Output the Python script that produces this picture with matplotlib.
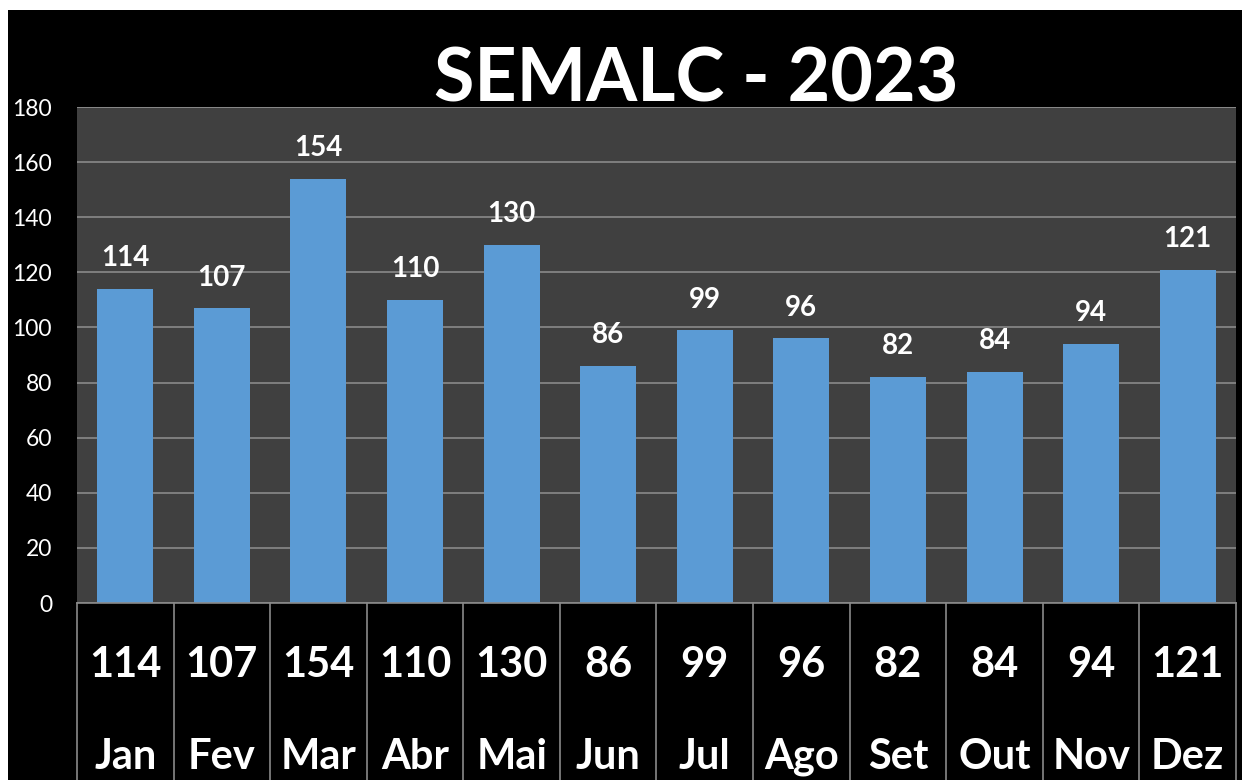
import matplotlib.pyplot as plt
from matplotlib.patches import Rectangle
from matplotlib.transforms import blended_transform_factory

months = ["Jan", "Fev", "Mar", "Abr", "Mai", "Jun", "Jul", "Ago", "Set", "Out", "Nov", "Dez"]
values = [114, 107, 154, 110, 130, 86, 99, 96, 82, 84, 94, 121]
yticks = [0, 20, 40, 60, 80, 100, 120, 140, 160, 180]

plt.rcParams['font.family'] = ['Lato', 'DejaVu Sans']

fig = plt.figure(figsize=(12.48, 7.8), dpi=100, facecolor="white")
# black background panel inside a thin white frame
fig.patches.append(Rectangle((8 / 1248, 0), 1234 / 1248, 770 / 780,
                             transform=fig.transFigure, facecolor="black",
                             edgecolor="none", zorder=-10))

ax = fig.add_axes([77 / 1248, 177 / 780, 1159 / 1248, 496 / 780])
ax.set_facecolor("#404040")

x = list(range(len(months)))
ax.bar(x, values, width=0.58, color="#5B9BD5", zorder=3)

ax.set_xlim(-0.5, len(months) - 0.5)
ax.set_ylim(0, 180)
ax.set_yticks(yticks)
ax.set_yticklabels([str(t) for t in yticks], color="white", fontsize=16.5)
ax.tick_params(axis="y", length=0, pad=18)
ax.set_xticks([])
ax.grid(axis="y", color="#8a8a8a", linewidth=1.2, zorder=1)
for s in ax.spines.values():
    s.set_visible(False)
ax.axhline(180, color="#8a8a8a", linewidth=1.2, zorder=1)

# value labels above bars
for xi, v in zip(x, values):
    ax.annotate(str(v), (xi, v), xytext=(0, 22), textcoords="offset points",
                ha="center", va="center", color="white", fontsize=20,
                fontweight="bold")

# data table below the axis
trans = blended_transform_factory(ax.transData, ax.transAxes)
for xi, v, m in zip(x, values, months):
    ax.text(xi, -0.125, str(v), transform=trans, ha="center", va="center",
            color="white", fontsize=30, fontweight="bold")
    ax.text(xi, -0.31, m, transform=trans, ha="center", va="center",
            color="white", fontsize=30, fontweight="bold")
for b in range(len(months) + 1):
    ax.plot([b - 0.5, b - 0.5], [0, -0.36], transform=trans, color="#8a8a8a",
            linewidth=1.2, clip_on=False)
ax.plot([-0.5, len(months) - 0.5], [0, 0], transform=trans, color="#8a8a8a",
        linewidth=1.2, clip_on=False, zorder=4)

fig.text(696 / 1248, 1 - 80 / 780, "SEMALC - 2023", ha="center", va="center",
         color="white", fontsize=53, fontweight="bold", zorder=5)

fig.savefig("out.png", dpi=100, facecolor=fig.get_facecolor())
